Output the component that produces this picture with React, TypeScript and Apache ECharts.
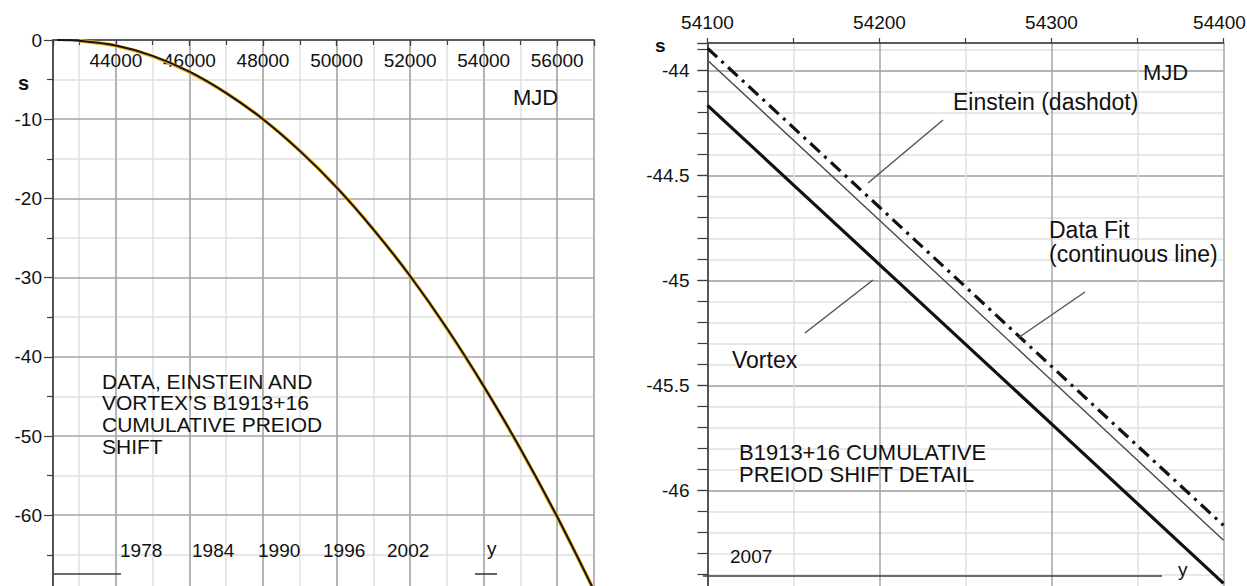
import React, { useEffect, useRef } from "react";
import * as echarts from "echarts";

// ---------- data ----------
// Overview: cumulative period shift (s) vs MJD
const overviewMJD = [42400, 43000, 44000, 45000, 46000, 47000, 48000, 49000, 50000, 51000, 52000, 53000, 54000, 55000, 56000, 57000];
const overviewShift = [0, -0.1, -0.7, -2.0, -4.0, -6.7, -10.0, -14.0, -18.6, -23.9, -29.8, -36.4, -43.7, -51.6, -60.2, -69.5];
// Einstein / vortex predictions coincide with data at this scale
const overviewModelMJD = [43000, 44000, 45000, 46000, 47000, 48000, 49000, 50000, 51000, 52000, 53000, 54000, 55000, 56000, 57000];
const overviewModelShift = [-0.08, -0.74, -2.07, -4.05, -6.69, -10.0, -13.97, -18.6, -23.9, -29.8, -36.45, -43.7, -51.66, -60.25, -69.5];

// Detail: 54100 .. 54400 MJD
const detailMJD = [54100, 54200, 54300, 54400];
const einsteinShift = [-43.895, -44.652, -45.41, -46.167];
const dataFitShift = [-43.952, -44.714, -45.476, -46.238];
const vortexShift = [-44.167, -44.925, -45.684, -46.443];

// Year annotations
const overviewYears = ["1978", "1984", "1990", "1996", "2002"];
const detailYears = ["2007"];

// Annotation texts
const overviewTitle = ["DATA, EINSTEIN AND", "VORTEX\u2019S B1913+16", "CUMULATIVE PREIOD", "SHIFT"];
const detailTitle = ["B1913+16 CUMULATIVE", "PREIOD SHIFT DETAIL"];
const dataFitLabel = ["Data Fit", "(continuous line)"];

const FONT = '"Liberation Sans", Arial, Helvetica, sans-serif';
const MAJOR = "#a4a4a4";
const MINOR = "#e0e0e0";
const AXIS = "#3c3c3c";
const TXT = "#111111";

const zip = (xs: number[], ys: number[]) => xs.map((x, i) => [x, ys[i]]);

function txt(text: string, x: number, y: number, size: number, extra: any = {}) {
  return {
    type: "text",
    x,
    y,
    z: 100,
    silent: true,
    style: {
      text,
      fill: TXT,
      font: `${extra.weight || "normal"} ${size}px ${FONT}`,
      align: extra.align || "left",
      verticalAlign: "middle",
    },
  };
}

function ln(x1: number, y1: number, x2: number, y2: number, color = "#555", width = 1.5) {
  return {
    type: "line",
    z: 100,
    silent: true,
    shape: { x1, y1, x2, y2 },
    style: { stroke: color, lineWidth: width },
  };
}

export default function App() {
  const ref = useRef<HTMLDivElement>(null);

  useEffect(() => {
    if (!ref.current) return;
    const chart = echarts.init(ref.current, undefined, { renderer: "svg" });

    const yearX = [120, 192, 258, 323, 387];

    const option: any = {
      animation: false,
      backgroundColor: "#ffffff",
      textStyle: { fontFamily: FONT },
      grid: [
        { left: 53, top: 40, width: 541, height: 554.4, outerBoundsMode: "none", containLabel: false },
        { left: 707.5, top: 43, width: 516, height: 552.3, outerBoundsMode: "none", containLabel: false },
      ],
      xAxis: [
        // left, minor grid (1000)
        {
          type: "value",
          gridIndex: 0,
          position: "top",
          min: 42290,
          max: 57000,
          minInterval: 1000,
          maxInterval: 1000,
          z: 0,
          axisLine: { show: false },
          axisTick: { show: true, inside: true, length: 5, lineStyle: { color: AXIS, width: 1.2 } },
          axisLabel: { show: false },
          splitLine: { show: true, lineStyle: { color: MINOR, width: 1.5 } },
        },
        // left, major grid (2000) + labels
        {
          type: "value",
          gridIndex: 0,
          position: "top",
          min: 42290,
          max: 57000,
          minInterval: 2000,
          maxInterval: 2000,
          z: 1,
          axisLine: { show: true, onZero: false, lineStyle: { color: AXIS, width: 1.6 } },
          axisTick: { show: true, inside: true, length: 6, lineStyle: { color: AXIS, width: 1.2 } },
          axisLabel: {
            show: true,
            inside: true,
            margin: 11,
            color: TXT,
            fontSize: 19,
            fontFamily: FONT,
            formatter: (v: number) => (Math.abs(v % 2000) < 1e-6 ? String(v) : ""),
          },
          splitLine: { show: true, lineStyle: { color: MAJOR, width: 1.5 } },
        },
        // right detail
        {
          type: "value",
          gridIndex: 1,
          position: "top",
          min: 54100,
          max: 54400,
          interval: 100,
          z: 1,
          axisLine: { show: true, onZero: false, lineStyle: { color: AXIS, width: 1.6 } },
          axisTick: { show: true, inside: false, length: 5, lineStyle: { color: AXIS, width: 1.2 } },
          minorTick: { show: true, splitNumber: 2, length: 5, lineStyle: { color: AXIS, width: 1.2 } },
          axisLabel: {
            show: true,
            margin: 11,
            color: TXT,
            fontSize: 19,
            fontFamily: FONT,
            formatter: (v: number) => (v >= 54400 ? "{e|" + String(v) + "}" : String(v)),
            rich: {
              e: { fontSize: 19, fontFamily: FONT, color: TXT, padding: [0, 8, 0, 0] },
            },
          },
          splitLine: { show: true, lineStyle: { color: MAJOR, width: 1.5 } },
          minorSplitLine: { show: true, lineStyle: { color: MINOR, width: 1.5 } },
        },
      ],
      yAxis: [
        // left
        {
          type: "value",
          gridIndex: 0,
          position: "left",
          min: -70,
          max: 0,
          interval: 10,
          z: 1,
          axisLine: { show: true, onZero: false, lineStyle: { color: AXIS, width: 1.6 } },
          axisTick: { show: true, inside: false, length: 9, lineStyle: { color: AXIS, width: 1.2 } },
          minorTick: { show: true, splitNumber: 2, length: 6, lineStyle: { color: AXIS, width: 1.2 } },
          axisLabel: {
            show: true,
            margin: 11,
            color: TXT,
            fontSize: 19,
            fontFamily: FONT,
            formatter: (v: number) => (v > -65 ? String(v) : ""),
          },
          splitLine: { show: true, lineStyle: { color: MAJOR, width: 1.5 } },
          minorSplitLine: { show: true, lineStyle: { color: MINOR, width: 1.5 } },
        },
        // right, minor grid (0.1)
        {
          type: "value",
          gridIndex: 1,
          position: "left",
          min: -46.5,
          max: -43.87,
          interval: 0.1,
          z: 0,
          axisLine: { show: false },
          axisTick: { show: true, inside: false, length: 10, lineStyle: { color: AXIS, width: 1.2 } },
          axisLabel: { show: false },
          splitLine: { show: true, lineStyle: { color: MINOR, width: 1.5 } },
        },
        // right, major grid (0.5) + labels
        {
          type: "value",
          gridIndex: 1,
          position: "left",
          min: -46.5,
          max: -43.87,
          interval: 0.5,
          z: 1,
          axisLine: { show: true, onZero: false, lineStyle: { color: AXIS, width: 1.6 } },
          axisTick: { show: true, inside: false, length: 10, lineStyle: { color: AXIS, width: 1.2 } },
          axisLabel: {
            show: true,
            margin: 18,
            color: TXT,
            fontSize: 19,
            fontFamily: FONT,
            formatter: (v: number) => {
              const d = v * 2;
              if (Math.abs(d - Math.round(d)) > 1e-6 || v < -46.2) return "";
              return String(Math.round(v * 10) / 10);
            },
          },
          splitLine: { show: true, lineStyle: { color: MAJOR, width: 1.5 } },
        },
      ],
      series: [
        {
          name: "Einstein / Vortex",
          type: "line",
          xAxisIndex: 1,
          yAxisIndex: 0,
          data: zip(overviewModelMJD, overviewModelShift),
          showSymbol: false,
          smooth: 0.3,
          lineStyle: { color: "#f0b020", width: 3.6 },
          z: 3,
        },
        {
          name: "Data",
          type: "line",
          xAxisIndex: 1,
          yAxisIndex: 0,
          data: zip(overviewMJD, overviewShift),
          showSymbol: false,
          smooth: 0.3,
          lineStyle: { color: "#151515", width: 2 },
          z: 4,
        },
        {
          name: "Einstein (dashdot)",
          type: "line",
          xAxisIndex: 2,
          yAxisIndex: 2,
          data: zip(detailMJD, einsteinShift),
          showSymbol: false,
          lineStyle: { color: "#111", width: 3.2, type: [13, 6, 3, 6] },
          z: 4,
        },
        {
          name: "Data Fit",
          type: "line",
          xAxisIndex: 2,
          yAxisIndex: 2,
          data: zip(detailMJD, dataFitShift),
          showSymbol: false,
          lineStyle: { color: "#4a4a4a", width: 1.4 },
          z: 4,
        },
        {
          name: "Vortex",
          type: "line",
          xAxisIndex: 2,
          yAxisIndex: 2,
          data: zip(detailMJD, vortexShift),
          showSymbol: false,
          lineStyle: { color: "#111", width: 3.2 },
          z: 4,
        },
      ],
      graphic: [
        // left panel annotations
        txt("s", 18, 83, 20, { weight: "bold" }),
        txt("MJD", 513, 97, 22),
        ...overviewTitle.map((t, i) => txt(t, 102, 381 + i * 21.8, 21)),
        ...overviewYears.map((y, i) => txt(y, yearX[i], 550, 19)),
        txt("y", 487, 548, 19),
        ln(54, 574, 121, 574, AXIS, 1.6),
        ln(475, 574, 497, 574, AXIS, 1.6),
        // right panel annotations
        txt("s", 655, 45, 19, { weight: "bold" }),
        txt("MJD", 1143, 72, 22),
        txt("Einstein (dashdot)", 953, 102, 23),
        ...dataFitLabel.map((t, i) => txt(t, 1049, 230 + i * 24, 23)),
        txt("Vortex", 732, 360, 23),
        ...detailTitle.map((t, i) => txt(t, 739, 452 + i * 22.5, 22)),
        ...detailYears.map((y) => txt(y, 730, 556, 19)),
        txt("y", 1178, 569, 19),
        ln(703, 576, 1162, 576, AXIS, 1.6),
        ln(868, 183, 943, 120),
        ln(1018, 338, 1085, 292),
        ln(805, 333, 873, 280),
      ],
    };

    chart.setOption(option);
    return () => chart.dispose();
  }, []);

  return (
    <div
      ref={ref}
      style={{ position: "absolute", left: 0, top: 0, width: 1247, height: 586, background: "#fff" }}
    />
  );
}
